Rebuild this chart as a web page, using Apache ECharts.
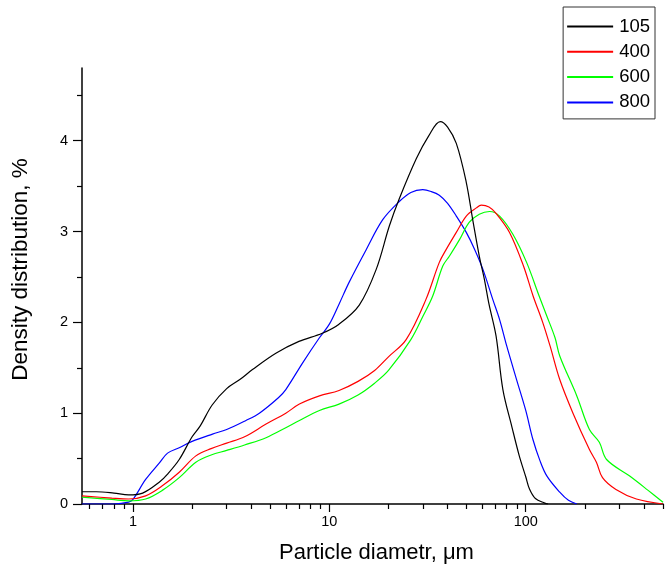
<!DOCTYPE html>
<html>
<head>
<meta charset="utf-8">
<script src="https://cdn.jsdelivr.net/npm/echarts@6/dist/echarts.min.js"></script>
<style>html,body{margin:0;padding:0;background:#fff}#c{width:665px;height:569px}</style>
</head>
<body>
<div id="c"></div>
<script>
// Particle diameter (µm) and density distribution (%) for each series
var d105 = [0.55,0.65,0.8,0.95,1.12,1.36,1.5,1.72,2.0,2.2,2.53,3.0,3.5,4.06,5.34,7.0,9.2,11.2,14.2,17.3,20.2,22.7,27.7,32,36.7,40,44.3,49.7,53.8,58,61.6,65,70.6,76.5,85,92.7,100,104.5,112,125,130];
var v105 = [0.135,0.135,0.12,0.10,0.12,0.24,0.33,0.49,0.74,0.86,1.09,1.27,1.37,1.48,1.66,1.79,1.88,1.98,2.19,2.58,3.06,3.36,3.8,4.05,4.21,4.15,3.97,3.55,3.12,2.73,2.47,2.2,1.85,1.26,0.85,0.53,0.3,0.165,0.06,0.01,0];

var d400 = [0.55,0.78,0.95,1.16,1.41,1.72,2.09,2.5,3.0,3.7,4.76,6.0,7.04,8.9,11.2,14,17,20,24.6,31,36.3,39.3,44.3,49.8,56,59.4,65,70.6,82.7,97.4,109,122,133,149,174,211,229,246,288,366,500];
var v400 = [0.09,0.065,0.055,0.09,0.2,0.35,0.53,0.61,0.67,0.74,0.88,1.0,1.1,1.19,1.25,1.35,1.47,1.62,1.81,2.25,2.66,2.8,2.99,3.17,3.26,3.29,3.27,3.2,2.99,2.62,2.29,2.0,1.74,1.37,1.0,0.6,0.46,0.29,0.16,0.055,0];

var d600 = [0.55,0.78,0.95,1.16,1.41,1.72,2.09,2.5,3.0,3.7,4.76,6.0,7.04,8.9,11.2,14,17,20,26,30,33.6,37.8,40.9,46,51.5,58,65.4,73.6,86,101,117,128,141,149,182,211,237,258,337,420,500];
var v600 = [0.075,0.05,0.035,0.055,0.15,0.29,0.46,0.54,0.59,0.65,0.73,0.84,0.92,1.03,1.1,1.2,1.33,1.47,1.81,2.07,2.29,2.62,2.73,2.91,3.1,3.19,3.22,3.17,2.97,2.66,2.29,2.07,1.83,1.63,1.19,0.82,0.68,0.49,0.31,0.15,0.02];

var d800 = [0.55,0.8,0.95,1.0,1.16,1.36,1.5,1.72,2.0,2.54,3.0,3.76,4.4,5.5,6.0,7.34,8.9,10,11.2,12.6,15.4,18.7,22.7,26,29.9,33,36.3,40,44.3,49.8,55,60.6,68,73.6,80,89.8,100,108.8,118,128,149,165,182];
var v800 = [0,0,0.02,0.05,0.27,0.45,0.56,0.62,0.69,0.77,0.82,0.92,1.0,1.17,1.26,1.56,1.83,1.98,2.2,2.44,2.8,3.13,3.33,3.43,3.46,3.44,3.4,3.31,3.17,2.99,2.8,2.58,2.25,2.03,1.74,1.37,1.03,0.71,0.48,0.31,0.13,0.04,0];

var seriesNames = ['105','400','600','800'];
var xMajorTicks = [1,10,100];
var xMinorTicks = [0.6,0.7,0.8,0.9,2,3,4,5,6,7,8,9,20,30,40,50,60,70,80,90,200,300,400,500];
var yMajorTicks = [0,1,2,3,4];
var yMinorTicks = [0.5,1.5,2.5,3.5,4.5];

function pairs(xs, ys){ return xs.map(function(x,i){ return [x, ys[i]]; }); }

var font = 'Liberation Sans, Arial, sans-serif';
var chart = echarts.init(document.getElementById('c'), null, {renderer:'canvas'});
var colors = ['#000000','#ff0000','#00ff00','#0000ff'];
var datas = [pairs(d105,v105), pairs(d400,v400), pairs(d600,v600), pairs(d800,v800)];

chart.setOption({
  animation:false,
  backgroundColor:'#ffffff',
  color: colors,
  grid:{left:82, right:2, top:68, bottom:64, containLabel:false},
  legend:{
    orient:'vertical', right:10, top:7,
    data: seriesNames,
    borderColor:'#333', borderWidth:1, borderRadius:0,
    padding:[10,5,7,3], itemGap:6.3, itemWidth:46, itemHeight:17,
    itemStyle:{opacity:0},
    textStyle:{fontFamily:font, fontSize:18.5, color:'#000', padding:[0,0,0,1]}
  },
  xAxis:[{
    type:'log', logBase:10, min:0.55, max:500,
    name:'Particle diametr, μm', nameLocation:'middle', nameGap:38,
    nameTextStyle:{fontFamily:font, fontSize:22, color:'#000', padding:[0,0,0,8]},
    axisLine:{lineStyle:{color:'#000', width:1.5}},
    axisTick:{show:true, inside:false, length:8, lineStyle:{color:'#000', width:1.2}, customValues:xMajorTicks},
    axisLabel:{fontFamily:font, fontSize:14.5, color:'#000', margin:10, customValues:xMajorTicks},
    splitLine:{show:false}, minorTick:{show:false}
  },{
    type:'log', logBase:10, min:0.55, max:500, position:'bottom',
    axisLine:{show:false},
    axisTick:{show:true, inside:false, length:5, lineStyle:{color:'#000', width:1.2}, customValues:xMinorTicks},
    axisLabel:{show:false, customValues:xMinorTicks},
    splitLine:{show:false}
  }],
  yAxis:[{
    type:'value', min:0, max:4.8,
    name:'Density distribution, %', nameLocation:'middle', nameGap:50, nameRotate:90,
    nameTextStyle:{fontFamily:font, fontSize:22.5, color:'#000', padding:[0,0,0,33]},
    axisLine:{show:true, lineStyle:{color:'#000', width:1.5}},
    axisTick:{show:true, inside:false, length:9, lineStyle:{color:'#000', width:1.2}, customValues:yMajorTicks},
    axisLabel:{fontFamily:font, fontSize:14.5, color:'#000', margin:14, customValues:yMajorTicks},
    splitLine:{show:false}
  },{
    type:'value', min:0, max:4.8, position:'left',
    axisLine:{show:false},
    axisTick:{show:true, inside:false, length:5, lineStyle:{color:'#000', width:1.2}, customValues:yMinorTicks},
    axisLabel:{show:false, customValues:yMinorTicks},
    splitLine:{show:false}
  }],
  series: seriesNames.map(function(n,i){
    return {
      name:n, type:'line', data:datas[i], xAxisIndex:0, yAxisIndex:0,
      smooth:0.35, symbol:'none', showSymbol:false,
      lineStyle:{color:colors[i], width:1.2},
      itemStyle:{color:colors[i]},
      z: 10 - i
    };
  })
});
</script>
</body>
</html>
